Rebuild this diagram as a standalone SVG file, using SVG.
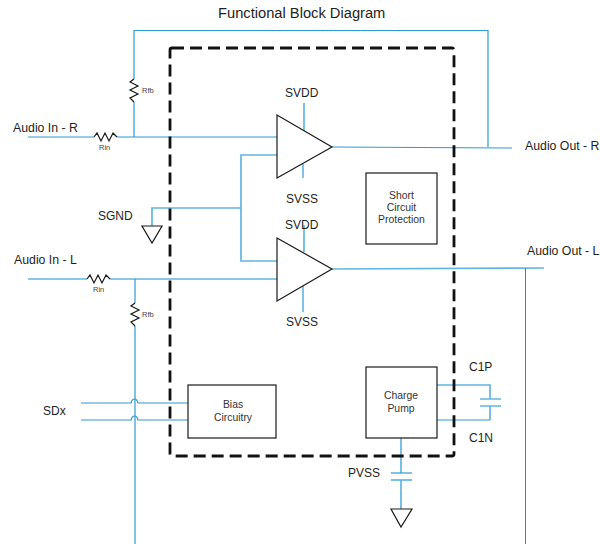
<svg xmlns="http://www.w3.org/2000/svg" width="600" height="544" viewBox="0 0 600 544">
<style>
text{font-family:"Liberation Sans",Arial,sans-serif;fill:#231f20;font-size:12px}
.t{font-size:14.7px}
.a{font-size:12.3px}
.s{font-size:7.5px;fill:#444}
.m{font-size:10.4px;text-anchor:middle;fill:#333}
.c{fill:none;stroke:#2d9bd2;stroke-width:1.2}
.l{fill:none;stroke:#62b5e2;stroke-width:1.7}
.d{fill:none;stroke:#1f8ac4;stroke-width:1}
.k{fill:none;stroke:#1a1a1a;stroke-width:1.2}
.b{fill:#fff;stroke:#1a1a1a;stroke-width:1.2}
</style>
<rect width="600" height="544" fill="#fff"/>
<g id="connectors">
<path class="c" d="M134 79V30.500H488V147"/>
<path class="c" d="M134 102V137"/>
<path class="c" d="M28 137H94M117 137H277"/>
<path class="c" d="M332 147L512 148"/>
<path class="l" d="M277 155H241V261H277M241 208H152V226"/>
<path class="l" d="M304 103V131M304 225V252"/>
<path class="c" d="M303 164V178M303 286V312"/>
<path class="l" d="M28 279H87M110 279H277"/>
<path class="l" d="M332 269L544 268"/>
<path class="d" d="M525.500 268V544"/>
<path class="c" d="M135 279V303M135 326V544"/>
<path class="c" d="M81 403H131Q132 399 134.500 399Q137 399 138 403H188"/>
<path class="c" d="M81 420H131Q132 416 134.500 416Q137 416 138 420H188"/>
<path class="l" d="M437 385H490V399M490 406V420"/>
<path class="c" d="M490 420H437"/>
<path class="l" d="M480 399H501M480 406H501"/>
<path class="l" d="M401 438V473M401 480V509"/>
<path class="l" d="M391 480H412"/>
<path class="c" d="M391 473H412"/>
<path class="k" d="M94 137L97 133L101 141L105 133L109 141L113 133L117 137"/>
<path class="k" d="M87 279L90 275L94 283L98 275L102 283L106 275L110 279"/>
<path class="k" d="M134 79L130 82L138 86L130 90L138 94L130 98L134 102"/>
<path class="k" d="M135 303L131 306L139 310L131 314L139 318L131 322L135 326"/>
</g>
<g id="boundary"><rect x="170" y="48" width="284" height="408" rx="2" fill="none" stroke="#111" stroke-width="2.8" stroke-dasharray="12 6"/></g>
<g id="amp-r"><path class="b" d="M277 115V178L332 147Z"/></g>
<g id="amp-l"><path class="b" d="M277 238V301L332 269Z"/></g>
<g id="gnd-s"><path class="b" d="M142 226H162L152 243Z"/></g>
<g id="gnd-p"><path class="b" d="M391 509H412L401 527Z"/></g>
<g id="short"><rect class="b" x="366" y="173" width="71" height="71"/><text class="m" x="401.500" y="198.500">Short</text><text class="m" x="401.500" y="211">Circuit</text><text class="m" x="401.500" y="223">Protection</text></g>
<g id="bias"><rect class="b" x="188" y="385" width="88" height="53"/><text class="m" x="233" y="408">Bias</text><text class="m" x="233" y="421">Circuitry</text></g>
<g id="pump"><rect class="b" x="366" y="367" width="71" height="71"/><text class="m" x="401" y="399">Charge</text><text class="m" x="401" y="412">Pump</text></g>
<g id="labels">
<text class="t" x="218" y="17.500">Functional Block Diagram</text>
<text class="a" x="13" y="132">Audio In - R</text>
<text class="a" x="14" y="264">Audio In - L</text>
<text class="a" x="525" y="150">Audio Out - R</text>
<text class="a" x="527" y="255">Audio Out - L</text>
<text x="98" y="220">SGND</text>
<text x="43" y="415">SDx</text>
<text x="285" y="97">SVDD</text>
<text x="286" y="203">SVSS</text>
<text x="285" y="229">SVDD</text>
<text x="286" y="326">SVSS</text>
<text x="469" y="371">C1P</text>
<text x="469" y="442">C1N</text>
<text x="348" y="477">PVSS</text>
<text class="s" x="142" y="93">Rfb</text>
<text class="s" x="99" y="150">Rin</text>
<text class="s" x="93" y="292">Rin</text>
<text class="s" x="142" y="317">Rfb</text>
</g>
</svg>
